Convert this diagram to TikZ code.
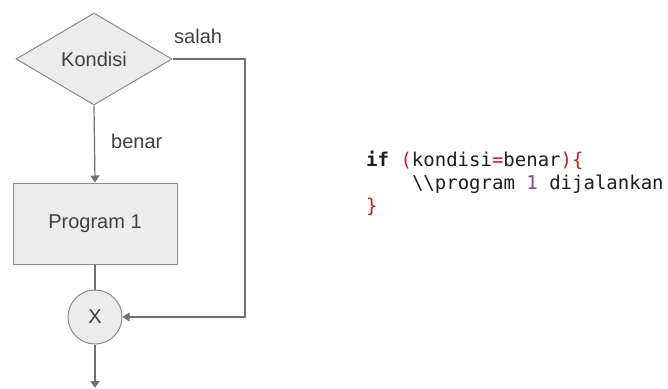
\documentclass[tikz,border=0pt]{standalone}
\usepackage{fontspec}
\setmainfont{Liberation Sans}
\newfontfamily\codefont{DejaVu Sans Mono}
\usetikzlibrary{shapes.geometric,arrows.meta}
\definecolor{shapefill}{RGB}{236,236,236}
\definecolor{shapeline}{RGB}{140,140,140}
\definecolor{conline}{RGB}{112,112,112}
\definecolor{labeltext}{RGB}{64,64,64}
\definecolor{codered}{RGB}{200,30,30}
\definecolor{codenum}{RGB}{150,60,140}
\definecolor{codetext}{RGB}{30,30,30}
\begin{document}
\begin{tikzpicture}[x=1pt,y=-1pt,
  shapebox/.style={draw=shapeline,line width=1pt,fill=shapefill,text=labeltext,font=\fontsize{20}{24}\selectfont,inner sep=0pt},
  conn/.style={draw=conline,line width=1.2pt},
  arr/.style={conn,-{Triangle[length=7pt,width=9pt]}},
  lbl/.style={text=labeltext,font=\fontsize{20}{24}\selectfont,inner sep=0pt,anchor=base west},
  code/.style={font=\codefont\fontsize{19}{23}\selectfont,inner sep=0pt,anchor=base west,text=codetext}]
\useasboundingbox (0,0) rectangle (668,388);
\node[shapebox,diamond,minimum width=156pt,minimum height=92pt] (kond) at (94,59) {Kondisi};
\node[shapebox,rectangle,minimum width=164pt,minimum height=81pt] (prog) at (95,223.5) {Program 1};
\node[shapebox,circle,minimum size=54pt] (x) at (95,317) {X};
\coordinate (turn) at (245,317);
\coordinate (out) at (95,388);
\node[lbl] (salah) at (174,43) {salah};
\node[lbl] (benar) at (111,148) {benar};
\draw[arr] (kond.south) -- (prog.north);
\draw[conn] (prog.south) -- (x.north);
\draw[arr] (kond.east) -| (turn) -- (x.east);
\draw[arr] (x.south) -- (out);
\node[code] (l1) at (366,166) {\textbf{if} \textcolor{codered}{(}kondisi\textcolor{codered}{=}benar\textcolor{codered}{)\{}};
\node[code] (l2) at (411.8,189) {\textbackslash\textbackslash program \textcolor{codenum}{1} dijalankan};
\node[code] (l3) at (366,212) {\textcolor{codered}{\}}};
\end{tikzpicture}
\end{document}
